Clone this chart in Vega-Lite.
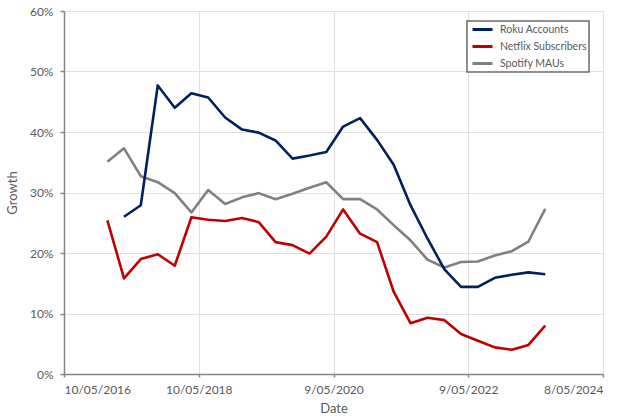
{
  "$schema": "https://vega.github.io/schema/vega-lite/v6.json",
  "width": 539,
  "height": 363,
  "autosize": {"type": "none"},
  "padding": {"left": 64, "top": 11, "right": 37, "bottom": 44},
  "background": "white",
  "datasets": {
    "growth": [
      {"date": "2016-12-31", "series": "Netflix Subscribers", "value": 0.254},
      {"date": "2017-03-31", "series": "Netflix Subscribers", "value": 0.158},
      {"date": "2017-06-30", "series": "Netflix Subscribers", "value": 0.190},
      {"date": "2017-09-30", "series": "Netflix Subscribers", "value": 0.198},
      {"date": "2017-12-31", "series": "Netflix Subscribers", "value": 0.179},
      {"date": "2018-03-31", "series": "Netflix Subscribers", "value": 0.259},
      {"date": "2018-06-30", "series": "Netflix Subscribers", "value": 0.255},
      {"date": "2018-09-30", "series": "Netflix Subscribers", "value": 0.253},
      {"date": "2018-12-31", "series": "Netflix Subscribers", "value": 0.258},
      {"date": "2019-03-31", "series": "Netflix Subscribers", "value": 0.251},
      {"date": "2019-06-30", "series": "Netflix Subscribers", "value": 0.218},
      {"date": "2019-09-30", "series": "Netflix Subscribers", "value": 0.213},
      {"date": "2019-12-31", "series": "Netflix Subscribers", "value": 0.199},
      {"date": "2020-03-31", "series": "Netflix Subscribers", "value": 0.227},
      {"date": "2020-06-30", "series": "Netflix Subscribers", "value": 0.272},
      {"date": "2020-09-30", "series": "Netflix Subscribers", "value": 0.232},
      {"date": "2020-12-31", "series": "Netflix Subscribers", "value": 0.218},
      {"date": "2021-03-31", "series": "Netflix Subscribers", "value": 0.136},
      {"date": "2021-06-30", "series": "Netflix Subscribers", "value": 0.084},
      {"date": "2021-09-30", "series": "Netflix Subscribers", "value": 0.093},
      {"date": "2021-12-31", "series": "Netflix Subscribers", "value": 0.089},
      {"date": "2022-03-31", "series": "Netflix Subscribers", "value": 0.066},
      {"date": "2022-06-30", "series": "Netflix Subscribers", "value": 0.055},
      {"date": "2022-09-30", "series": "Netflix Subscribers", "value": 0.044},
      {"date": "2022-12-31", "series": "Netflix Subscribers", "value": 0.040},
      {"date": "2023-03-31", "series": "Netflix Subscribers", "value": 0.048},
      {"date": "2023-06-30", "series": "Netflix Subscribers", "value": 0.080},
      {"date": "2016-12-31", "series": "Spotify MAUs", "value": 0.351},
      {"date": "2017-03-31", "series": "Spotify MAUs", "value": 0.373},
      {"date": "2017-06-30", "series": "Spotify MAUs", "value": 0.327},
      {"date": "2017-09-30", "series": "Spotify MAUs", "value": 0.317},
      {"date": "2017-12-31", "series": "Spotify MAUs", "value": 0.299},
      {"date": "2018-03-31", "series": "Spotify MAUs", "value": 0.267},
      {"date": "2018-06-30", "series": "Spotify MAUs", "value": 0.304},
      {"date": "2018-09-30", "series": "Spotify MAUs", "value": 0.281},
      {"date": "2018-12-31", "series": "Spotify MAUs", "value": 0.292},
      {"date": "2019-03-31", "series": "Spotify MAUs", "value": 0.299},
      {"date": "2019-06-30", "series": "Spotify MAUs", "value": 0.289},
      {"date": "2019-09-30", "series": "Spotify MAUs", "value": 0.298},
      {"date": "2019-12-31", "series": "Spotify MAUs", "value": 0.308},
      {"date": "2020-03-31", "series": "Spotify MAUs", "value": 0.317},
      {"date": "2020-06-30", "series": "Spotify MAUs", "value": 0.289},
      {"date": "2020-09-30", "series": "Spotify MAUs", "value": 0.289},
      {"date": "2020-12-31", "series": "Spotify MAUs", "value": 0.272},
      {"date": "2021-03-31", "series": "Spotify MAUs", "value": 0.246},
      {"date": "2021-06-30", "series": "Spotify MAUs", "value": 0.221},
      {"date": "2021-09-30", "series": "Spotify MAUs", "value": 0.189},
      {"date": "2021-12-31", "series": "Spotify MAUs", "value": 0.176},
      {"date": "2022-03-31", "series": "Spotify MAUs", "value": 0.185},
      {"date": "2022-06-30", "series": "Spotify MAUs", "value": 0.186},
      {"date": "2022-09-30", "series": "Spotify MAUs", "value": 0.196},
      {"date": "2022-12-31", "series": "Spotify MAUs", "value": 0.203},
      {"date": "2023-03-31", "series": "Spotify MAUs", "value": 0.219},
      {"date": "2023-06-30", "series": "Spotify MAUs", "value": 0.273},
      {"date": "2017-03-31", "series": "Roku Accounts", "value": 0.260},
      {"date": "2017-06-30", "series": "Roku Accounts", "value": 0.279},
      {"date": "2017-09-30", "series": "Roku Accounts", "value": 0.477},
      {"date": "2017-12-31", "series": "Roku Accounts", "value": 0.440},
      {"date": "2018-03-31", "series": "Roku Accounts", "value": 0.464},
      {"date": "2018-06-30", "series": "Roku Accounts", "value": 0.457},
      {"date": "2018-09-30", "series": "Roku Accounts", "value": 0.424},
      {"date": "2018-12-31", "series": "Roku Accounts", "value": 0.404},
      {"date": "2019-03-31", "series": "Roku Accounts", "value": 0.399},
      {"date": "2019-06-30", "series": "Roku Accounts", "value": 0.386},
      {"date": "2019-09-30", "series": "Roku Accounts", "value": 0.356},
      {"date": "2019-12-31", "series": "Roku Accounts", "value": 0.361},
      {"date": "2020-03-31", "series": "Roku Accounts", "value": 0.367},
      {"date": "2020-06-30", "series": "Roku Accounts", "value": 0.409},
      {"date": "2020-09-30", "series": "Roku Accounts", "value": 0.423},
      {"date": "2020-12-31", "series": "Roku Accounts", "value": 0.387},
      {"date": "2021-03-31", "series": "Roku Accounts", "value": 0.346},
      {"date": "2021-06-30", "series": "Roku Accounts", "value": 0.279},
      {"date": "2021-09-30", "series": "Roku Accounts", "value": 0.224},
      {"date": "2021-12-31", "series": "Roku Accounts", "value": 0.173},
      {"date": "2022-03-31", "series": "Roku Accounts", "value": 0.144},
      {"date": "2022-06-30", "series": "Roku Accounts", "value": 0.144},
      {"date": "2022-09-30", "series": "Roku Accounts", "value": 0.159},
      {"date": "2022-12-31", "series": "Roku Accounts", "value": 0.164},
      {"date": "2023-03-31", "series": "Roku Accounts", "value": 0.168},
      {"date": "2023-06-30", "series": "Roku Accounts", "value": 0.165}
    ]
  },
  "data": {"name": "growth"},
  "mark": {"type": "line", "strokeWidth": 2.6, "strokeJoin": "round", "strokeCap": "butt"},
  "encoding": {
    "x": {
      "field": "date",
      "type": "temporal",
      "title": "Date",
      "scale": {
        "type": "utc",
        "domain": [
          {"year": 2016, "month": 5, "date": 10, "utc": true},
          {"year": 2024, "month": 5, "date": 8, "utc": true}
        ]
      },
      "axis": {
        "values": [
          {"year": 2016, "month": 5, "date": 10, "utc": true},
          {"year": 2018, "month": 5, "date": 10, "utc": true},
          {"year": 2020, "month": 5, "date": 9, "utc": true},
          {"year": 2022, "month": 5, "date": 9, "utc": true},
          {"year": 2024, "month": 5, "date": 8, "utc": true}
        ],
        "labelExpr": "utcFormat(datum.value, '%-d/%m/%Y')",
        "tickSize": 3,
        "labelPadding": 7,
        "titlePadding": 7
      }
    },
    "y": {
      "field": "value",
      "type": "quantitative",
      "title": "Growth",
      "scale": {"domain": [0, 0.6], "nice": false},
      "axis": {
        "values": [0, 0.1, 0.2, 0.3, 0.4, 0.5, 0.6],
        "format": ".0%",
        "tickSize": 4,
        "labelPadding": 7,
        "titlePadding": 10
      }
    },
    "color": {
      "field": "series",
      "type": "nominal",
      "title": null,
      "scale": {
        "domain": ["Roku Accounts", "Netflix Subscribers", "Spotify MAUs"],
        "range": ["#002060", "#C00000", "#808080"]
      },
      "legend": {
        "orient": "none",
        "legendX": 403,
        "legendY": 10,
        "symbolType": "M-2,0L2,0",
        "symbolSize": 100,
        "symbolStrokeWidth": 3,
        "symbolOffset": 7,
        "labelOffset": 11,
        "padding": 2,
        "rowPadding": 4,
        "fillColor": "white",
        "strokeColor": "#6a6a6a",
        "labelFont": "Lato",
        "labelFontSize": 10.5,
        "labelColor": "#595959"
      }
    }
  },
  "config": {
    "view": {"stroke": null},
    "font": "Lato",
    "axis": {
      "labelFont": "Lato",
      "labelFontSize": 12,
      "labelColor": "#595959",
      "titleFont": "Lato",
      "titleFontSize": 13,
      "titleFontWeight": "normal",
      "titleColor": "#595959",
      "domainColor": "#868686",
      "domainWidth": 1.5,
      "tickColor": "#868686",
      "tickWidth": 1.5,
      "gridColor": "#e0e0e0",
      "gridWidth": 1
    },
    "legend": {"strokeWidth": 1.5}
  }
}
